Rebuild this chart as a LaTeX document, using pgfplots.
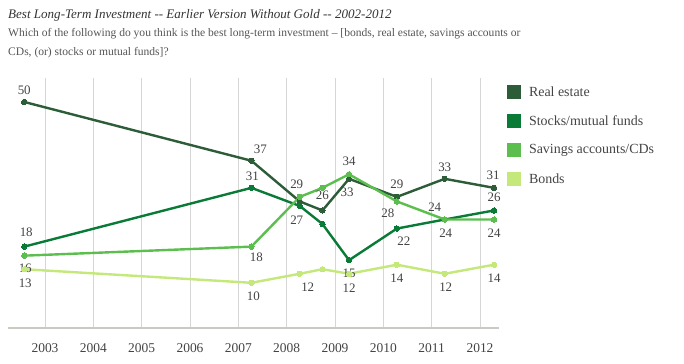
\documentclass[border=0pt]{standalone}
\usepackage{pgfplots}
\usepackage{pgfplotstable}
\pgfplotsset{compat=1.18}
\usepackage{fontspec}
\setmainfont{Liberation Serif}
\definecolor{cRE}{HTML}{2D5C38}
\definecolor{cST}{HTML}{0A7A37}
\definecolor{cSA}{HTML}{5BBE4E}
\definecolor{cBO}{HTML}{C5E87A}
\definecolor{txt}{HTML}{444444}
\definecolor{subt}{HTML}{555555}
\definecolor{ttl}{HTML}{333333}
\definecolor{gridgray}{HTML}{D6D6D6}
\definecolor{axisgray}{HTML}{CACAC2}

\pgfplotstableread{
x       re  st  sa  bo
2002.57 50  18  16  13
2007.27 37  31  18  10
2008.27 28  27  29  12
2008.74 26  23  31  13
2009.29 33  15  34  12
2010.28 29  22  28  14
2011.27 33  24  24  12
2012.29 31  26  24  14
}\data

\begin{document}
\begin{tikzpicture}[x=1bp,y=1bp,
  lbl/.style={font=\fontsize{13}{13}\selectfont, text=txt, inner sep=0pt}]
\begin{axis}[
  scale only axis, width=491bp, height=250bp,
  xmin=2002.234, xmax=2012.393, ymin=0, ymax=55.3,
  clip=false,
  axis x line=bottom, axis y line=none,
  x axis line style={draw=axisgray, line width=2bp, -},
  xtick={2003,2004,2005,2006,2007,2008,2009,2010,2011,2012},
  xticklabels={2003,2004,2005,2006,2007,2008,2009,2010,2011,2012},
  major tick length=0pt,
  xmajorgrids, grid style={draw=gridgray, line width=0.8bp},
  xticklabel style={font=\fontsize{13.5}{13.5}\selectfont, text=txt, anchor=center, yshift=-20bp},
  legend style={at={(1,1)}, anchor=north west, xshift=8bp, yshift=-7bp,
    draw=none, fill=none, inner sep=0pt, outer sep=0pt, row sep=15bp,
    font=\fontsize{14}{14}\selectfont, text=txt,
    nodes={inner sep=0pt, anchor=west},
    /tikz/every odd column/.style={column sep=8bp}},
  legend cell align=left,
  legend image code/.code={\fill[#1, draw=none] (0bp,-7bp) rectangle (14bp,7bp);},
  every axis plot/.append style={line width=2.4bp, mark=*, mark size=2.7bp, mark options={line width=0pt}},
]
\addplot[color=cRE] table[x=x, y=re] {\data};
\addlegendentry{Real estate}
\addplot[color=cST] table[x=x, y=st] {\data};
\addlegendentry{Stocks/mutual funds}
\addplot[color=cSA] table[x=x, y=sa] {\data};
\addlegendentry{Savings accounts/CDs}
\addplot[color=cBO] table[x=x, y=bo] {\data};
\addlegendentry{Bonds}

% Real estate labels
\node[lbl, yshift=12bp] at (axis cs:2002.57,50) {50};
\node[lbl, xshift=9bp, yshift=11bp] at (axis cs:2007.27,37) {37};
\node[lbl, yshift=15bp] at (axis cs:2008.74,26) {26};
\node[lbl, xshift=-2bp, yshift=-13bp] at (axis cs:2009.29,33) {33};
\node[lbl, yshift=13bp] at (axis cs:2010.28,29) {29};
\node[lbl, yshift=12bp] at (axis cs:2011.27,33) {33};
\node[lbl, xshift=-1bp, yshift=13bp] at (axis cs:2012.29,31) {31};
% Stocks labels
\node[lbl, xshift=2bp, yshift=14bp] at (axis cs:2002.57,18) {18};
\node[lbl, xshift=1bp, yshift=12bp] at (axis cs:2007.27,31) {31};
\node[lbl, xshift=-3bp, yshift=-14bp] at (axis cs:2008.27,27) {27};
\node[lbl, yshift=-13bp] at (axis cs:2009.29,15) {15};
\node[lbl, xshift=7bp, yshift=-13bp] at (axis cs:2010.28,22) {22};
\node[lbl, xshift=-10bp, yshift=12bp] at (axis cs:2011.27,24) {24};
\node[lbl, yshift=13bp] at (axis cs:2012.29,26) {26};
% Savings labels
\node[lbl, xshift=1bp, yshift=-13bp] at (axis cs:2002.57,16) {16};
\node[lbl, xshift=5bp, yshift=-11bp] at (axis cs:2007.27,18) {18};
\node[lbl, xshift=-3bp, yshift=13bp] at (axis cs:2008.27,29) {29};
\node[lbl, yshift=13bp] at (axis cs:2009.29,34) {34};
\node[lbl, xshift=-9bp, yshift=-12bp] at (axis cs:2010.28,28) {28};
\node[lbl, xshift=1bp, yshift=-14bp] at (axis cs:2011.27,24) {24};
\node[lbl, yshift=-14bp] at (axis cs:2012.29,24) {24};
% Bonds labels
\node[lbl, xshift=1bp, yshift=-14bp] at (axis cs:2002.57,13) {13};
\node[lbl, xshift=2bp, yshift=-13bp] at (axis cs:2007.27,10) {10};
\node[lbl, xshift=8bp, yshift=-13bp] at (axis cs:2008.27,12) {12};
\node[lbl, yshift=-14bp] at (axis cs:2009.29,12) {12};
\node[lbl, yshift=-14bp] at (axis cs:2010.28,14) {14};
\node[lbl, xshift=1bp, yshift=-13bp] at (axis cs:2011.27,12) {12};
\node[lbl, yshift=-14bp] at (axis cs:2012.29,14) {14};
\end{axis}
\node[anchor=base west, inner sep=0pt, text=ttl, font=\fontsize{13.1}{13.1}\selectfont\itshape] at (0,310) {Best Long-Term Investment -{}- Earlier Version Without Gold -{}- 2002-2012};
\node[anchor=base west, inner sep=0pt, text=subt, font=\fontsize{11.6}{11.6}\selectfont] at (0,292) {Which of the following do you think is the best long-term investment – [bonds, real estate, savings accounts or};
\node[anchor=base west, inner sep=0pt, text=subt, font=\fontsize{11.6}{11.6}\selectfont] at (0,273) {CDs, (or) stocks or mutual funds]?};
\pgfresetboundingbox
\path (-8,-35) rectangle (676,328);
\end{tikzpicture}
\end{document}
